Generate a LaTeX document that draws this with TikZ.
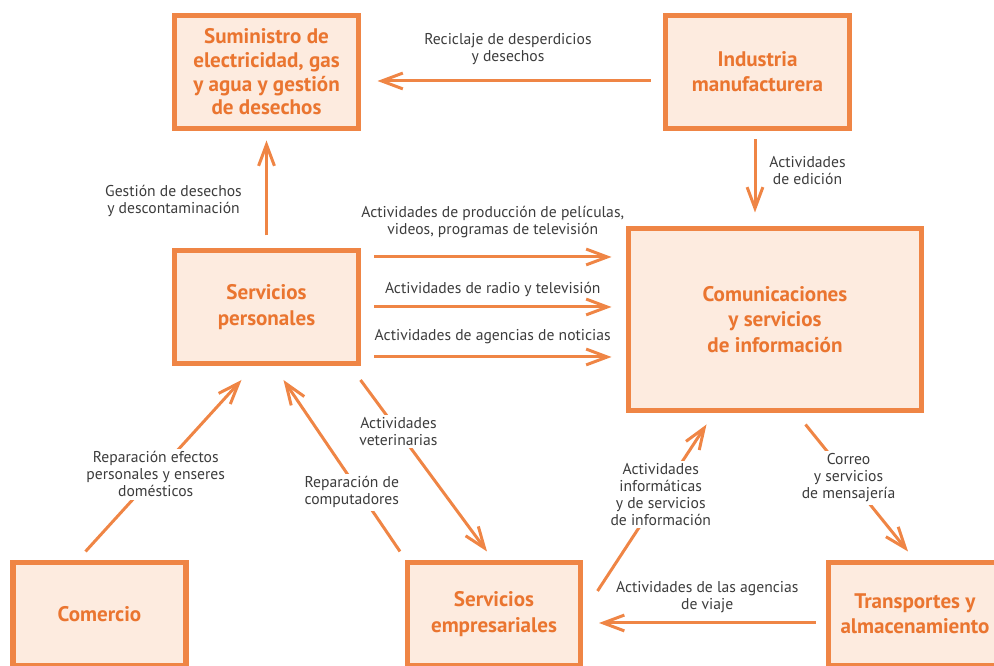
\documentclass[tikz,border=0pt]{standalone}
\usepackage{fontspec}
\setmainfont{PT Sans}
\usetikzlibrary{positioning, arrows.meta}
\definecolor{boxline}{HTML}{EF8545}
\definecolor{boxtext}{HTML}{EA7530}
\definecolor{boxfill}{HTML}{FDEBDF}
\definecolor{lbltext}{HTML}{3C3C3C}
\newcommand{\boxfont}{\fontsize{12}{14.4}\selectfont\bfseries}
\newcommand{\lblfont}{\fontsize{8.9}{9.7}\selectfont}
\tikzset{
>={Straight Barb[length=12pt,width=9pt]}, % open arrow heads
box/.style={draw=boxline, line width=2.85pt, fill=boxfill, text=boxtext, font=\boxfont, align=center, inner sep=0pt, minimum width=3.68cm, minimum height=2.26cm}, % sector boxes
bigbox/.style={box, minimum width=5.86cm, minimum height=3.64cm}, % the central box
lowbox/.style={box, minimum width=3.46cm, minimum height=2.06cm}, % boxes cut by the bottom edge
flow/.style={->, draw=boxline, line width=1.7pt}, % the connectors
lbl/.style={text=lbltext, font=\lblfont, align=center}, % text beside a connector
cut/.style={lbl, fill=white, inner sep=1.5pt}, % text that breaks a connector
}

\begin{document}
\begin{tikzpicture}
    \useasboundingbox (0,0) rectangle (19.88,13.32);
    \node[box, font=\fontsize{12}{13.5}\selectfont\bfseries] (sum) at (5.33,11.88) {Suministro de\\electricidad, gas\\y agua y gestión\\de desechos};
    \node[box, right of=sum, node distance=9.82cm] (ind) {Industria\\manufacturera};
    \node[box, below of=sum, node distance=4.7cm] (per) {Servicios\\personales};
    \node[bigbox, right of=per, node distance=10.17cm, yshift=-0.25cm] (com) {Comunicaciones\\y servicios\\de información};
    \node[lowbox, below of=per, node distance=6.14cm, xshift=-3.34cm] (cmr) {Comercio};
    \node[lowbox, below of=per, node distance=6.14cm, xshift=4.55cm] (emp) {Servicios\\empresariales};
    \node[lowbox, right of=emp, node distance=8.42cm] (tra) {Transportes y\\almacenamiento};
    \draw[flow] ([xshift=-0.25cm,yshift=-0.18cm]ind.west) -- node[lbl, xshift=-0.12cm, yshift=0.64cm] {Reciclaje de desperdicios\\y desechos} ([xshift=0.33cm,yshift=-0.18cm]sum.east);
    \draw[flow] ([xshift=-0.05cm,yshift=-0.17cm]ind.south) -- node[lbl, xshift=1.05cm, yshift=0.1cm] {Actividades\\de edición} ([xshift=-0.05cm,yshift=0.27cm]ind.south |- com.north);
    \draw[flow] ([yshift=0.25cm]per.north) -- node[lbl, xshift=-1.86cm, yshift=-0.26cm] {Gestión de desechos\\y descontaminación} ([yshift=-0.19cm]sum.south);
    \draw[flow] ([xshift=0.26cm,yshift=1cm]per.east) -- node[lbl, yshift=0.69cm] {Actividades de producción de películas,\\videos, programas de televisión} ([xshift=-0.29cm,yshift=1cm]per.east -| com.west);
    \draw[flow] ([xshift=0.26cm]per.east) -- node[lbl, yshift=0.36cm] {Actividades de radio y televisión} ([xshift=-0.29cm]per.east -| com.west);
    \draw[flow] ([xshift=0.26cm,yshift=-1cm]per.east) -- node[lbl, yshift=0.4cm] {Actividades de agencias de noticias} ([xshift=-0.29cm,yshift=-1cm]per.east -| com.west);
    \draw[flow] ([xshift=-0.28cm,yshift=0.17cm]cmr.north) -- node[cut, pos=0.45] {Reparación efectos\\personales y enseres\\domésticos} ([xshift=-0.5cm,yshift=-0.28cm]per.south);
    \draw[flow] ([xshift=-1.88cm,yshift=0.17cm]emp.north) -- node[cut, pos=0.345, xshift=-0.16cm] {Reparación de\\computadores} ([xshift=0.34cm,yshift=-0.28cm]per.south);
    \draw[flow] ([xshift=1.88cm,yshift=-0.28cm]per.south) -- node[cut, pos=0.3] {Actividades\\veterinarias} ([xshift=-0.14cm,yshift=0.17cm]emp.north);
    \draw[flow] ([xshift=0.29cm,yshift=0.46cm]emp.east) -- node[cut, pos=0.58] {Actividades\\informáticas\\y de servicios\\de información} ([xshift=-1.37cm,yshift=-0.23cm]com.south);
    \draw[flow] ([xshift=0.61cm,yshift=-0.23cm]com.south) -- node[cut, pos=0.42] {Correo\\y servicios\\de mensajería} ([xshift=-0.14cm,yshift=0.17cm]tra.north);
    \draw[flow] ([xshift=-0.21cm,yshift=-0.18cm]tra.west) -- node[lbl, yshift=0.52cm] {Actividades de las agencias\\de viaje} ([xshift=0.32cm,yshift=-0.18cm]emp.east);
\end{tikzpicture}
\end{document}
